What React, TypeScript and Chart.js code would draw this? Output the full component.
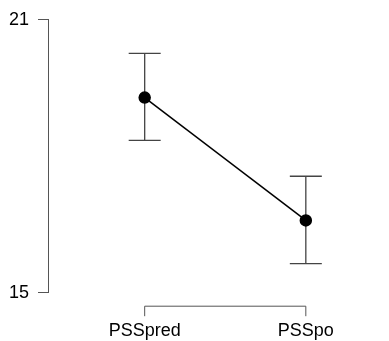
import React, { useEffect, useRef } from 'react';
import { Chart, registerables } from 'chart.js';

Chart.register(...registerables);

const categories: string[] = ['PSSpred', 'PSSpo'];
const means: number[] = [19.29, 16.59];
const lowerCI: number[] = [18.35, 15.64];
const upperCI: number[] = [20.26, 17.56];
const yTicks: number[] = [15, 21];

const FONT = '"Liberation Sans", Arial, Helvetica, sans-serif';

const errorBarPlugin = {
  id: 'errorBars',
  beforeDatasetsDraw(chart: any) {
    const ctx = chart.ctx;
    const xs = chart.scales.x;
    const ys = chart.scales.y;
    ctx.save();
    ctx.strokeStyle = '#444';
    ctx.lineWidth = 1.3;
    categories.forEach((_, i) => {
      const x = xs.getPixelForValue(i);
      const yl = ys.getPixelForValue(lowerCI[i]);
      const yu = ys.getPixelForValue(upperCI[i]);
      const hw = 16;
      ctx.beginPath();
      ctx.moveTo(x, yl);
      ctx.lineTo(x, yu);
      ctx.moveTo(x - hw, yl);
      ctx.lineTo(x + hw, yl);
      ctx.moveTo(x - hw, yu);
      ctx.lineTo(x + hw, yu);
      ctx.stroke();
    });
    ctx.restore();
  },
};

const bracketAxisPlugin = {
  id: 'bracketAxis',
  afterDraw(chart: any) {
    const ctx = chart.ctx;
    const xs = chart.scales.x;
    const yLine = chart.chartArea.bottom + 13.5;
    const x0 = xs.getPixelForValue(0);
    const x1 = xs.getPixelForValue(categories.length - 1);
    ctx.save();
    ctx.strokeStyle = '#555';
    ctx.lineWidth = 1;
    ctx.beginPath();
    ctx.moveTo(x0, yLine);
    ctx.lineTo(x1, yLine);
    categories.forEach((_, i) => {
      const x = xs.getPixelForValue(i);
      ctx.moveTo(x, yLine);
      ctx.lineTo(x, yLine + 10);
    });
    ctx.stroke();
    ctx.fillStyle = '#000';
    ctx.font = `18px ${FONT}`;
    ctx.textAlign = 'center';
    ctx.textBaseline = 'middle';
    categories.forEach((c, i) => {
      ctx.fillText(c, xs.getPixelForValue(i), yLine + 25);
    });
    ctx.restore();
  },
};

export default function App() {
  const ref = useRef<HTMLCanvasElement | null>(null);
  useEffect(() => {
    if (!ref.current) return;
    const chart = new Chart(ref.current, {
      type: 'line',
      data: {
        datasets: [
          {
            data: means.map((m, i) => ({ x: i, y: m })),
            borderColor: '#000',
            borderWidth: 1.5,
            pointRadius: 5.5,
            pointBackgroundColor: '#000',
            pointBorderColor: '#000',
            clip: false as any,
          },
        ],
      },
      options: {
        animation: false,
        responsive: true,
        maintainAspectRatio: false,
        layout: { padding: { top: 19, bottom: 48.3, left: 0, right: 30 } },
        plugins: { legend: { display: false }, tooltip: { enabled: false } },
        scales: {
          x: { type: 'linear', min: -0.6, max: 1.33, display: false },
          y: {
            type: 'linear',
            min: 15,
            max: 21,
            afterBuildTicks: (scale: any) => {
              scale.ticks = yTicks.map((v) => ({ value: v }));
            },
            afterFit: (scale: any) => {
              scale.width = 48;
            },
            grid: {
              display: true,
              drawOnChartArea: false,
              drawTicks: true,
              tickLength: 10,
              color: '#555',
            },
            border: { display: true, color: '#555', width: 1 },
            ticks: {
              color: '#000',
              padding: 9,
              font: { size: 18, family: FONT },
            },
          },
        },
      },
      plugins: [errorBarPlugin, bracketAxisPlugin],
    });
    return () => chart.destroy();
  }, []);
  return (
    <div style={{ position: 'fixed', left: 0, top: 0, width: 389, height: 341, background: '#fff' }}>
      <canvas ref={ref} />
    </div>
  );
}
